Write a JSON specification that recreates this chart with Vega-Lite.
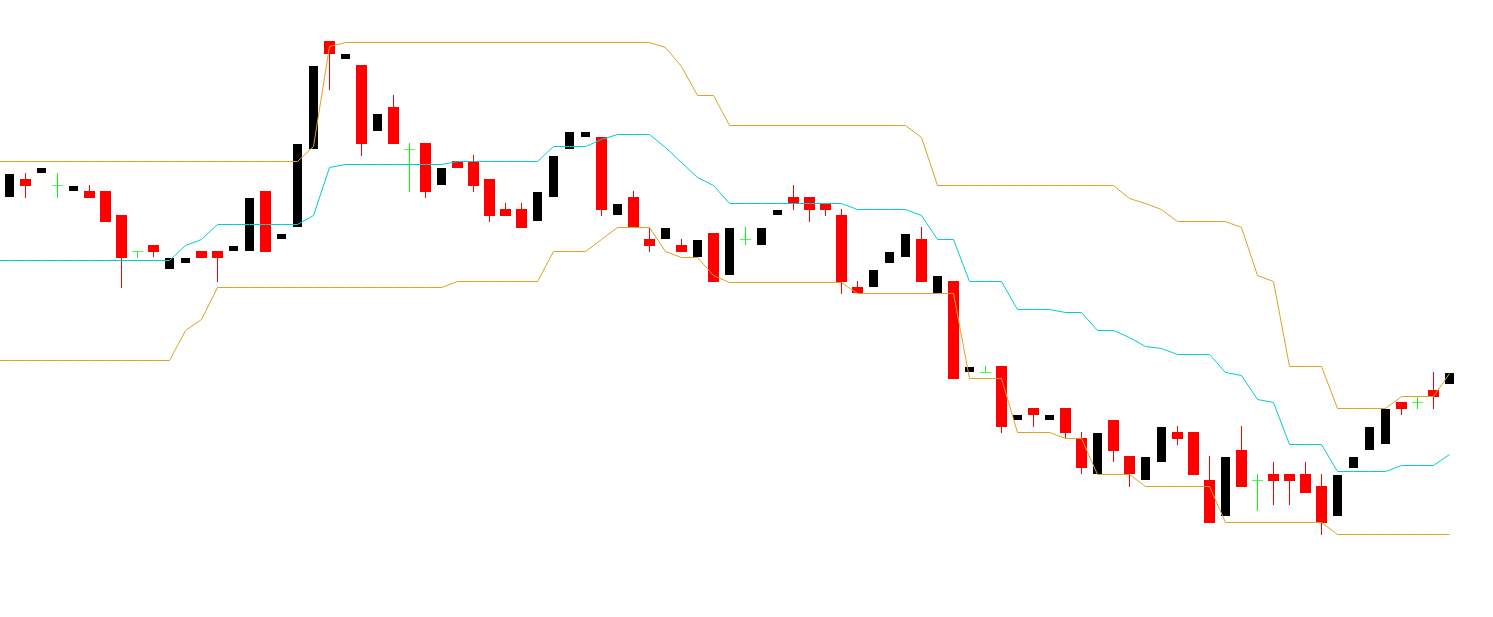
{
  "$schema": "https://vega.github.io/schema/vega-lite/v6.json",
  "width": 1493,
  "height": 617,
  "autosize": {"type": "fit", "contains": "padding"},
  "padding": 0,
  "background": "white",
  "config": {"view": {"stroke": null}},
  "datasets": {
    "candles": [
      {"i":0,"o":420,"h":443,"l":420,"c":443},
      {"i":1,"o":438,"h":444,"l":419,"c":431},
      {"i":2,"o":444,"h":449,"l":444,"c":449},
      {"i":3,"o":432,"h":444,"l":419,"c":432},
      {"i":4,"o":426,"h":431,"l":426,"c":431},
      {"i":5,"o":426,"h":432,"l":419,"c":419},
      {"i":6,"o":426,"h":426,"l":395,"c":395},
      {"i":7,"o":402,"h":402,"l":329,"c":359},
      {"i":8,"o":366,"h":366,"l":359,"c":366},
      {"i":9,"o":372,"h":372,"l":360,"c":365},
      {"i":10,"o":348,"h":359,"l":348,"c":359},
      {"i":11,"o":354,"h":359,"l":354,"c":359},
      {"i":12,"o":366,"h":366,"l":359,"c":359},
      {"i":13,"o":366,"h":366,"l":335,"c":359},
      {"i":14,"o":366,"h":371,"l":366,"c":371},
      {"i":15,"o":366,"h":419,"l":366,"c":419},
      {"i":16,"o":426,"h":426,"l":365,"c":365},
      {"i":17,"o":378,"h":383,"l":378,"c":383},
      {"i":18,"o":390,"h":473,"l":390,"c":473},
      {"i":19,"o":468,"h":551,"l":468,"c":551},
      {"i":20,"o":576,"h":576,"l":527,"c":563},
      {"i":21,"o":558,"h":563,"l":558,"c":563},
      {"i":22,"o":552,"h":552,"l":461,"c":473},
      {"i":23,"o":486,"h":503,"l":486,"c":503},
      {"i":24,"o":510,"h":522,"l":473,"c":473},
      {"i":25,"o":468,"h":474,"l":425,"c":468},
      {"i":26,"o":474,"h":474,"l":419,"c":425},
      {"i":27,"o":432,"h":449,"l":432,"c":449},
      {"i":28,"o":456,"h":456,"l":449,"c":449},
      {"i":29,"o":455,"h":462,"l":425,"c":431},
      {"i":30,"o":438,"h":438,"l":395,"c":401},
      {"i":31,"o":408,"h":414,"l":401,"c":401},
      {"i":32,"o":408,"h":414,"l":389,"c":389},
      {"i":33,"o":396,"h":425,"l":396,"c":425},
      {"i":34,"o":420,"h":461,"l":420,"c":461},
      {"i":35,"o":468,"h":485,"l":468,"c":485},
      {"i":36,"o":480,"h":485,"l":480,"c":485},
      {"i":37,"o":480,"h":480,"l":401,"c":407},
      {"i":38,"o":402,"h":413,"l":402,"c":413},
      {"i":39,"o":420,"h":426,"l":390,"c":390},
      {"i":40,"o":378,"h":389,"l":365,"c":371},
      {"i":41,"o":378,"h":389,"l":378,"c":389},
      {"i":42,"o":372,"h":378,"l":365,"c":365},
      {"i":43,"o":360,"h":377,"l":360,"c":377},
      {"i":44,"o":384,"h":384,"l":335,"c":335},
      {"i":45,"o":342,"h":389,"l":342,"c":389},
      {"i":46,"o":378,"h":390,"l":372,"c":378},
      {"i":47,"o":372,"h":389,"l":372,"c":389},
      {"i":48,"o":402,"h":407,"l":402,"c":407},
      {"i":49,"o":420,"h":432,"l":407,"c":414},
      {"i":50,"o":420,"h":420,"l":395,"c":407},
      {"i":51,"o":413,"h":413,"l":401,"c":407},
      {"i":52,"o":402,"h":408,"l":323,"c":335},
      {"i":53,"o":330,"h":336,"l":324,"c":324},
      {"i":54,"o":330,"h":347,"l":330,"c":347},
      {"i":55,"o":354,"h":365,"l":354,"c":365},
      {"i":56,"o":360,"h":383,"l":360,"c":383},
      {"i":57,"o":378,"h":390,"l":335,"c":335},
      {"i":58,"o":324,"h":341,"l":324,"c":341},
      {"i":59,"o":336,"h":336,"l":238,"c":238},
      {"i":60,"o":245,"h":250,"l":245,"c":250},
      {"i":61,"o":245,"h":251,"l":245,"c":245},
      {"i":62,"o":251,"h":251,"l":184,"c":190},
      {"i":63,"o":197,"h":202,"l":197,"c":202},
      {"i":64,"o":209,"h":209,"l":190,"c":202},
      {"i":65,"o":197,"h":202,"l":197,"c":202},
      {"i":66,"o":209,"h":209,"l":179,"c":184},
      {"i":67,"o":179,"h":185,"l":143,"c":149},
      {"i":68,"o":143,"h":184,"l":143,"c":184},
      {"i":69,"o":197,"h":197,"l":155,"c":166},
      {"i":70,"o":161,"h":161,"l":130,"c":143},
      {"i":71,"o":137,"h":160,"l":137,"c":160},
      {"i":72,"o":155,"h":190,"l":155,"c":190},
      {"i":73,"o":185,"h":191,"l":172,"c":178},
      {"i":74,"o":185,"h":185,"l":142,"c":142},
      {"i":75,"o":137,"h":161,"l":94,"c":94},
      {"i":76,"o":101,"h":160,"l":101,"c":160},
      {"i":77,"o":167,"h":191,"l":130,"c":130},
      {"i":78,"o":137,"h":143,"l":106,"c":137},
      {"i":79,"o":143,"h":155,"l":112,"c":136},
      {"i":80,"o":143,"h":143,"l":112,"c":136},
      {"i":81,"o":143,"h":155,"l":124,"c":124},
      {"i":82,"o":131,"h":143,"l":82,"c":94},
      {"i":83,"o":101,"h":142,"l":101,"c":142},
      {"i":84,"o":149,"h":160,"l":149,"c":160},
      {"i":85,"o":167,"h":190,"l":167,"c":190},
      {"i":86,"o":173,"h":208,"l":173,"c":208},
      {"i":87,"o":215,"h":215,"l":202,"c":208},
      {"i":88,"o":215,"h":220,"l":208,"c":215},
      {"i":89,"o":227,"h":245,"l":208,"c":220},
      {"i":90,"o":233,"h":244,"l":233,"c":244}
    ],
    "bands": [
      {"i":-1,"up":456,"mid":357,"lo":257},
      {"i":0,"up":456,"mid":357,"lo":257},
      {"i":1,"up":456,"mid":357,"lo":257},
      {"i":2,"up":456,"mid":357,"lo":257},
      {"i":3,"up":456,"mid":357,"lo":257},
      {"i":4,"up":456,"mid":357,"lo":257},
      {"i":5,"up":456,"mid":357,"lo":257},
      {"i":6,"up":456,"mid":357,"lo":257},
      {"i":7,"up":456,"mid":357,"lo":257},
      {"i":8,"up":456,"mid":357,"lo":257},
      {"i":9,"up":456,"mid":357,"lo":257},
      {"i":10,"up":456,"mid":357,"lo":257},
      {"i":11,"up":456,"mid":372,"lo":287},
      {"i":12,"up":456,"mid":378,"lo":298},
      {"i":13,"up":456,"mid":393,"lo":330},
      {"i":14,"up":456,"mid":393,"lo":330},
      {"i":15,"up":456,"mid":393,"lo":330},
      {"i":16,"up":456,"mid":393,"lo":330},
      {"i":17,"up":456,"mid":393,"lo":330},
      {"i":18,"up":456,"mid":393,"lo":330},
      {"i":19,"up":471,"mid":402,"lo":330},
      {"i":20,"up":571,"mid":450,"lo":330},
      {"i":21,"up":575,"mid":453,"lo":330},
      {"i":22,"up":575,"mid":453,"lo":330},
      {"i":23,"up":575,"mid":453,"lo":330},
      {"i":24,"up":575,"mid":453,"lo":330},
      {"i":25,"up":575,"mid":453,"lo":330},
      {"i":26,"up":575,"mid":453,"lo":330},
      {"i":27,"up":575,"mid":453,"lo":330},
      {"i":28,"up":575,"mid":456,"lo":336},
      {"i":29,"up":575,"mid":456,"lo":336},
      {"i":30,"up":575,"mid":456,"lo":336},
      {"i":31,"up":575,"mid":456,"lo":336},
      {"i":32,"up":575,"mid":456,"lo":336},
      {"i":33,"up":575,"mid":456,"lo":336},
      {"i":34,"up":575,"mid":471,"lo":366},
      {"i":35,"up":575,"mid":471,"lo":366},
      {"i":36,"up":575,"mid":471,"lo":366},
      {"i":37,"up":575,"mid":478,"lo":378},
      {"i":38,"up":575,"mid":483,"lo":390},
      {"i":39,"up":575,"mid":483,"lo":390},
      {"i":40,"up":575,"mid":483,"lo":390},
      {"i":41,"up":570,"mid":470,"lo":366},
      {"i":42,"up":551,"mid":455,"lo":360},
      {"i":43,"up":522,"mid":440,"lo":360},
      {"i":44,"up":522,"mid":432,"lo":342},
      {"i":45,"up":492,"mid":414,"lo":335},
      {"i":46,"up":492,"mid":414,"lo":335},
      {"i":47,"up":492,"mid":414,"lo":335},
      {"i":48,"up":492,"mid":414,"lo":335},
      {"i":49,"up":492,"mid":414,"lo":335},
      {"i":50,"up":492,"mid":414,"lo":335},
      {"i":51,"up":492,"mid":414,"lo":335},
      {"i":52,"up":492,"mid":414,"lo":335},
      {"i":53,"up":492,"mid":408,"lo":324},
      {"i":54,"up":492,"mid":408,"lo":324},
      {"i":55,"up":492,"mid":408,"lo":324},
      {"i":56,"up":492,"mid":408,"lo":324},
      {"i":57,"up":480,"mid":402,"lo":324},
      {"i":58,"up":432,"mid":378,"lo":324},
      {"i":59,"up":432,"mid":378,"lo":324},
      {"i":60,"up":432,"mid":336,"lo":239},
      {"i":61,"up":432,"mid":336,"lo":239},
      {"i":62,"up":432,"mid":336,"lo":239},
      {"i":63,"up":432,"mid":308,"lo":185},
      {"i":64,"up":432,"mid":308,"lo":185},
      {"i":65,"up":432,"mid":308,"lo":185},
      {"i":66,"up":432,"mid":305,"lo":179},
      {"i":67,"up":432,"mid":305,"lo":179},
      {"i":68,"up":432,"mid":287,"lo":143},
      {"i":69,"up":432,"mid":287,"lo":143},
      {"i":70,"up":419,"mid":280,"lo":143},
      {"i":71,"up":414,"mid":271,"lo":131},
      {"i":72,"up":408,"mid":269,"lo":131},
      {"i":73,"up":396,"mid":263,"lo":131},
      {"i":74,"up":396,"mid":263,"lo":131},
      {"i":75,"up":396,"mid":263,"lo":131},
      {"i":76,"up":396,"mid":245,"lo":95},
      {"i":77,"up":390,"mid":242,"lo":95},
      {"i":78,"up":342,"mid":218,"lo":95},
      {"i":79,"up":336,"mid":215,"lo":95},
      {"i":80,"up":251,"mid":173,"lo":95},
      {"i":81,"up":251,"mid":173,"lo":95},
      {"i":82,"up":251,"mid":173,"lo":95},
      {"i":83,"up":209,"mid":146,"lo":83},
      {"i":84,"up":209,"mid":146,"lo":83},
      {"i":85,"up":209,"mid":146,"lo":83},
      {"i":86,"up":209,"mid":146,"lo":83},
      {"i":87,"up":221,"mid":152,"lo":83},
      {"i":88,"up":221,"mid":152,"lo":83},
      {"i":89,"up":221,"mid":152,"lo":83},
      {"i":90,"up":244,"mid":163,"lo":83}
    ]
  },
  "encoding": {
    "x": {"field": "i", "type": "quantitative", "scale": {"domain": [-0.59375, 92.71875], "nice": false, "zero": false, "padding": 0}, "axis": null}
  },
  "layer": [
    {
      "data": {"name": "candles"},
      "transform": [{"filter": "datum.c <= datum.o"}],
      "mark": {"type": "rule", "strokeWidth": 1},
      "encoding": {
        "y": {"field": "l", "type": "quantitative", "scale": {"domain": [0, 617], "nice": false, "zero": false, "padding": 0}, "axis": null},
        "y2": {"field": "h"},
        "color": {"condition": {"test": "datum.c == datum.o", "value": "#00ff00"}, "value": "#ff0000"}
      }
    },
    {
      "data": {"name": "candles"},
      "transform": [{"filter": "datum.c > datum.o"}],
      "mark": {"type": "bar", "size": 9, "color": "#000000"},
      "encoding": {
        "y": {"field": "o", "type": "quantitative", "scale": {"domain": [0, 617], "nice": false, "zero": false, "padding": 0}, "axis": null},
        "y2": {"field": "c"}
      }
    },
    {
      "data": {"name": "candles"},
      "transform": [{"filter": "datum.c < datum.o"}],
      "mark": {"type": "bar", "size": 11, "color": "#ff0000"},
      "encoding": {
        "y": {"field": "o", "type": "quantitative", "scale": {"domain": [0, 617], "nice": false, "zero": false, "padding": 0}, "axis": null},
        "y2": {"field": "c"}
      }
    },
    {
      "data": {"name": "candles"},
      "transform": [{"filter": "datum.c == datum.o"}],
      "mark": {"type": "tick", "orient": "horizontal", "size": 11, "thickness": 1, "color": "#00ff00", "yOffset": 0.5},
      "encoding": {
        "y": {"field": "o", "type": "quantitative", "scale": {"domain": [0, 617], "nice": false, "zero": false, "padding": 0}, "axis": null}
      }
    },
    {
      "data": {"name": "bands"},
      "mark": {"type": "line", "color": "#DAA520", "strokeWidth": 1, "clip": true, "yOffset": 0.5},
      "encoding": {
        "y": {"field": "up", "type": "quantitative", "scale": {"domain": [0, 617], "nice": false, "zero": false, "padding": 0}, "axis": null}
      }
    },
    {
      "data": {"name": "bands"},
      "mark": {"type": "line", "color": "#00CED1", "strokeWidth": 1, "clip": true, "yOffset": 0.5},
      "encoding": {
        "y": {"field": "mid", "type": "quantitative", "scale": {"domain": [0, 617], "nice": false, "zero": false, "padding": 0}, "axis": null}
      }
    },
    {
      "data": {"name": "bands"},
      "mark": {"type": "line", "color": "#DAA520", "strokeWidth": 1, "clip": true, "yOffset": 0.5},
      "encoding": {
        "y": {"field": "lo", "type": "quantitative", "scale": {"domain": [0, 617], "nice": false, "zero": false, "padding": 0}, "axis": null}
      }
    }
  ]
}
